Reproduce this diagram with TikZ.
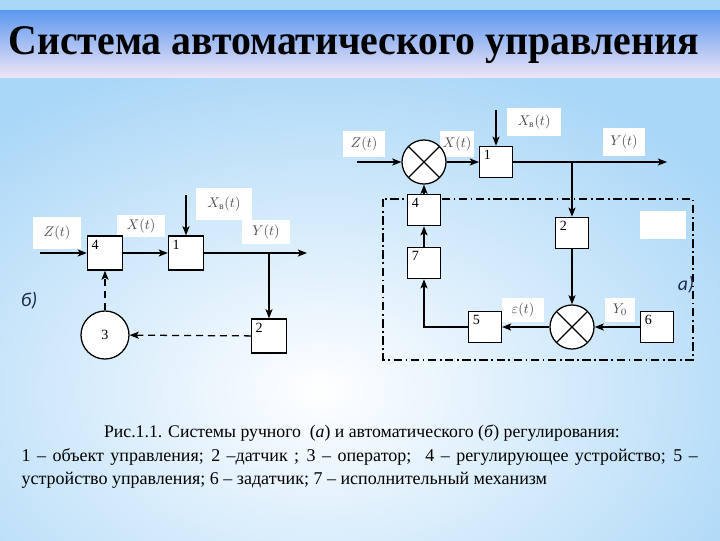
\documentclass[tikz,border=0pt]{standalone}
\usepackage{fontspec}
\usepackage{amsmath}
\usepackage{graphicx}
\usepackage{xcolor}
\setmainfont{Liberation Serif}
\newfontfamily\tagfont{Carlito}
\usetikzlibrary{arrows.meta,positioning,calc}
\definecolor{skyblue}{RGB}{168,214,247}
\definecolor{bandtop}{RGB}{92,152,240}
\definecolor{bandmid}{RGB}{165,196,238}
\definecolor{bandlow}{RGB}{238,228,245}
\definecolor{labgray}{RGB}{75,75,75}
\definecolor{tagblue}{RGB}{28,42,78}

\begin{document}
\begin{tikzpicture}[
      x=0.025cm, y=-0.025cm,
      line width=0.9pt,
      >={Stealth[length=6.5pt,width=5pt,inset=1.5pt]},
      num/.style={font=\fontsize{10}{11}\selectfont, inner sep=3pt},
      blk/.style={draw, fill=white, minimum width=0.82cm, minimum height=0.78cm,
                  inner sep=0pt, label={[num, anchor=north west]north west:#1}},
      bigblk/.style={blk=#1, minimum width=0.875cm, minimum height=0.85cm},
      sum/.style={draw, circle, fill=white, minimum size=1.1cm, inner sep=0pt,
                  path picture={
                    \draw (path picture bounding box.north west) -- (path picture bounding box.south east);
                    \draw (path picture bounding box.south west) -- (path picture bounding box.north east);}},
      sig/.style={fill=white, text=labgray, font=\fontsize{10}{11}\selectfont, inner sep=0pt},
      fb/.style={->, dash pattern=on 5pt off 3.5pt},
      frame/.style={line width=0.8pt, dash pattern=on 6pt off 2.5pt on 1.2pt off 2.5pt},
      tag/.style={font=\tagfont\itshape\fontsize{14}{16}\selectfont, text=tagblue, inner sep=0pt},
    ]
    % --- background and title band ---------------------------------------------
    \useasboundingbox (0,0) rectangle (720,540);
    \begin{scope}
      \clip (0,0) rectangle (720,540);
      \fill[skyblue] (0,0) rectangle (720,540);
      \shade[inner color=white, outer color=skyblue] (-190,40) rectangle (830,740);
    \end{scope}
    \shade[top color=bandtop, middle color=bandmid, bottom color=bandlow] (0,10) rectangle (720,77);
    \node[anchor=base west, inner sep=0pt, font=\fontsize{30}{34}\selectfont\bfseries] (title) at (8,54)
      {\resizebox{17.25cm}{\height}{Система автоматического управления}};

    % --- б): manual control ------------------------------------------------------
    \node[sig, minimum width=1.18cm, minimum height=0.8cm] (lz) at (57,233) {$Z(t)$};
    \node[sig, minimum width=1.18cm, minimum height=0.55cm] (lx) at (141,226) {$X(t)$};
    \node[sig, minimum width=1.38cm, minimum height=0.8cm] (lxb) at (224,204) {$X_{\text{в}}(t)$};
    \node[sig, minimum width=1.2cm, minimum height=0.62cm] (ly) at (266,232) {$Y(t)$};

    \node[bigblk=4] (l4) at (105,253) {};
    \node[bigblk=1] (l1) at (186,253) {};
    \node[bigblk=2] (l2) at (269,336) {};
    \node[draw, circle, fill=white, minimum size=1.2cm, inner sep=0pt, num] (l3) at (105,335) {3};
    \node[tag] (tagB) at (29,301) {б)};

    \coordinate (lin) at (40,253);
    \coordinate (ldist) at (l1.north |- 0,195);
    \coordinate (lout) at (307,253);
    \coordinate (lbr) at (l2.north |- lout);
    \draw[->] (lin) -- (l4);
    \draw[->] (l4) -- (l1);
    \draw[->] (ldist) -- (l1);
    \draw[->] (l1) -- (lout);
    \draw[->] (lbr) -- (l2);
    \draw[fb] (l2) -- (l3);
    \draw[fb] (l3) -- (l4);

    % --- а): automatic control ---------------------------------------------------
    \draw[frame] (383,199) rectangle (693,360);
    \node[fill=white, minimum width=1.15cm, minimum height=0.7cm, inner sep=0pt] (blank) at (663,225) {};
    \node[tag] (tagA) at (686,285) {а)};

    \node[sig, minimum width=1.05cm, minimum height=0.65cm] (rz) at (364,144) {$Z(t)$};
    \node[sig, minimum width=0.85cm, minimum height=0.65cm] (rx) at (457,144) {$X(t)$};
    \node[sig, minimum width=1.35cm, minimum height=0.72cm] (rxb) at (534,122) {$X_{\text{в}}(t)$};
    \node[sig, minimum width=1.05cm, minimum height=0.72cm] (ry) at (624,142) {$Y(t)$};
    \node[sig, minimum width=1.05cm, minimum height=0.6cm] (reps) at (523,310) {$\varepsilon(t)$};
    \node[sig, minimum width=0.75cm, minimum height=0.6cm] (ry0) at (620,310) {$Y_0$};

    \node[sum] (rs1) at (424,162) {};
    \node[blk=1] (r1) at (496,162) {};
    \node[blk=2] (r2) at (572,233) {};
    \node[sum] (rs2) at (572,327) {};
    \node[blk=6] (r6) at (657,327) {};
    \node[blk=5] (r5) at (485,327) {};
    \node[blk=7] (r7) at (424,263) {};
    \node[blk=4] (r4) at (424,210) {};

    \coordinate (rin) at (357,162);
    \coordinate (rdist) at (r1.north |- 0,110);
    \coordinate (rout) at (667,162);
    \coordinate (rbr) at (r2.north |- rout);
    \draw[->] (rin) -- (rs1);
    \draw[->] (rs1) -- (r1);
    \draw[->] (rdist) -- (r1);
    \draw[->] (r1) -- (rout);
    \draw[->] (rbr) -- (r2);
    \draw[->] (r2) -- (rs2);
    \draw[->] (r6) -- (rs2);
    \draw[->] (rs2) -- (r5);
    \draw[->] (r5.west) -| (r7.south);
    \draw[->] (r7) -- (r4);
    \draw[->] (r4) -- (rs1);

    % --- caption ----------------------------------------------------------------
    \node[font=\fontsize{12.6}{16.5}\selectfont, inner sep=0pt, anchor=base] (cap) at (362,437)
      {Рис.1.1. Системы ручного \ (\textit{а}) и автоматического (\textit{б}) регулирования:};
    \node[font=\fontsize{12.8}{16.5}\selectfont, inner sep=0pt, anchor=north west,
          text width=16.9cm, align=justify] (legend) at (21,448)
      {1 – объект управления; 2 –датчик ; 3 – оператор; \ 4 – регулирующее устройство; 5 –\linebreak
       устройство управления; 6 – задатчик; 7 – исполнительный механизм};
  \end{tikzpicture}
\end{document}
